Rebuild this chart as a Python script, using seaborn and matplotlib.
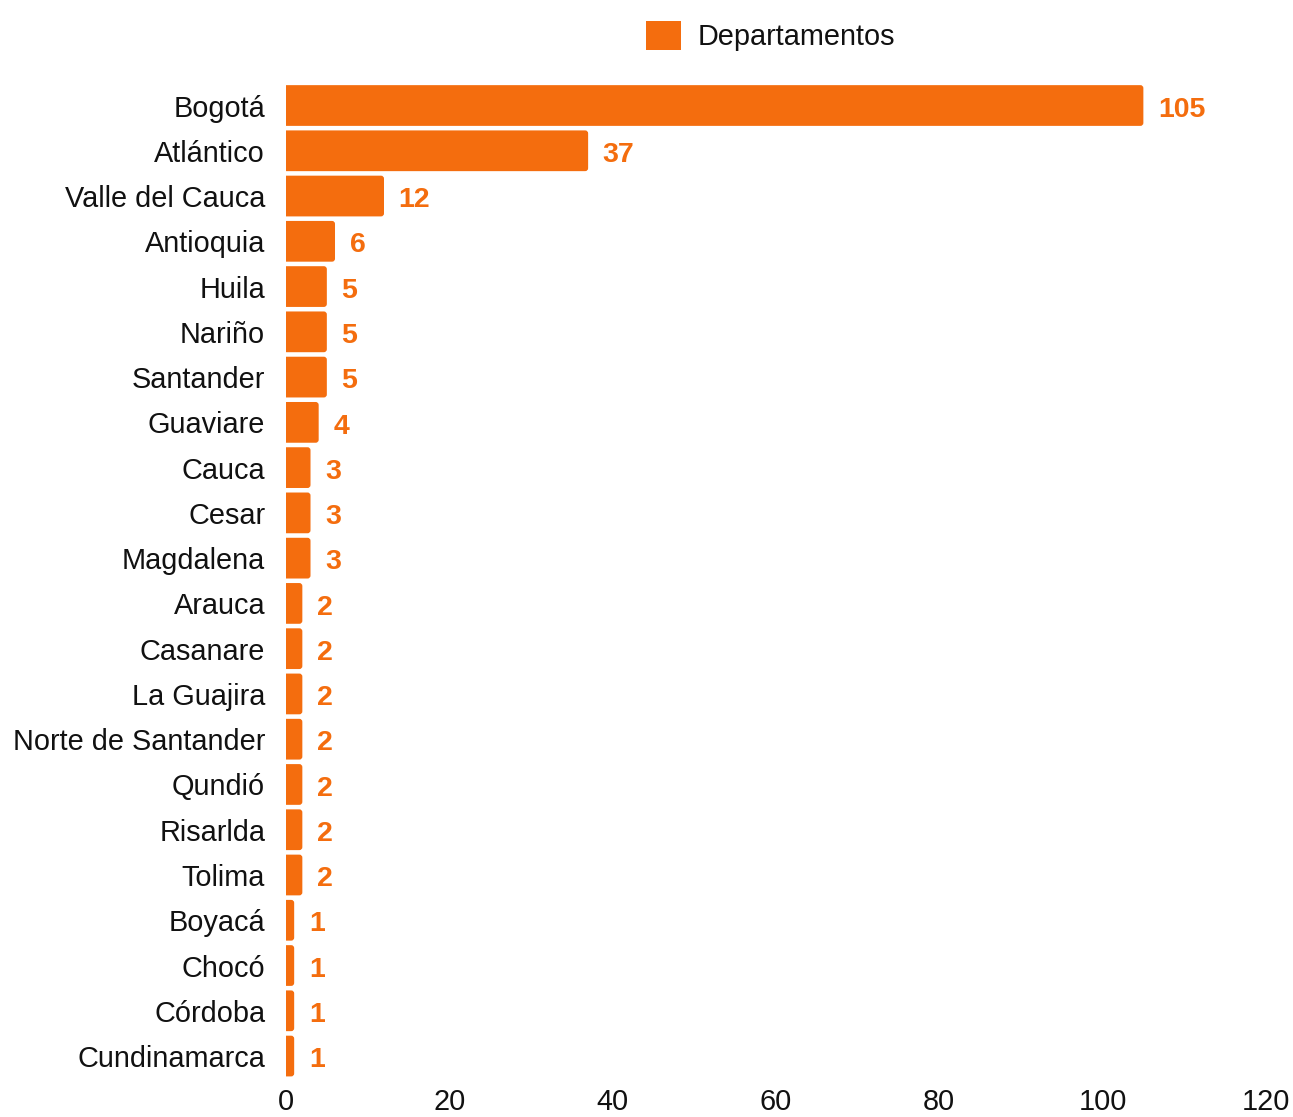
import matplotlib
matplotlib.use("Agg")
import matplotlib.pyplot as plt
import seaborn as sns
import pandas as pd
from matplotlib.patches import Patch, FancyBboxPatch

departamentos = ["Bogotá", "Atlántico", "Valle del Cauca", "Antioquia", "Huila", "Nariño",
                 "Santander", "Guaviare", "Cauca", "Cesar", "Magdalena", "Arauca", "Casanare",
                 "La Guajira", "Norte de Santander", "Qundió", "Risarlda", "Tolima", "Boyacá",
                 "Chocó", "Córdoba", "Cundinamarca"]
valores = [105, 37, 12, 6, 5, 5, 5, 4, 3, 3, 3, 2, 2, 2, 2, 2, 2, 2, 1, 1, 1, 1]
x_ticks = [0, 20, 40, 60, 80, 100, 120]
serie = "Departamentos"

color = "#F46D0E"

sns.set_theme(style="white")
plt.rcParams['font.family'] = ['Liberation Sans', 'DejaVu Sans']

df = pd.DataFrame({"dep": departamentos, "val": valores})

fig = plt.figure(figsize=(12.93, 11.17), dpi=100)
ax = fig.add_axes([0.2212, 0.0343, 0.979 - 0.2212, 0.9258 - 0.0343])

sns.barplot(data=df, x="val", y="dep", orient="h", color=color, width=0.9,
            saturation=1, ax=ax, edgecolor="none")

ax.set_xlim(0, 120)
ax.set_ylim(len(departamentos) - 0.5, -0.5)

# replace bars with slightly rounded versions (right end rounded, left clipped by axes)
xr = 3.0 / 8.17
aspect = (3.0 / 45.26) / xr
for p in list(ax.patches):
    x0, y0 = p.get_x(), p.get_y()
    w, h = p.get_width(), p.get_height()
    fb = FancyBboxPatch((x0 - 1.0, y0), w + 1.0, h,
                        boxstyle=f"round,pad=0,rounding_size={xr}",
                        mutation_aspect=aspect, facecolor=color, edgecolor="none")
    ax.add_patch(fb)
    p.set_visible(False)

ax.set_xticks(x_ticks)
ax.set_xticklabels([str(t) for t in x_ticks])
ax.set_xlabel("")
ax.set_ylabel("")
for s in ax.spines.values():
    s.set_visible(False)
ax.tick_params(axis="y", length=0, pad=15, labelsize=20.8, labelcolor="#111111")
ax.tick_params(axis="x", length=0, pad=7, labelsize=20.8, labelcolor="#111111")
ax.grid(False)

for i, v in enumerate(valores):
    ax.annotate(str(v), xy=(v, i), xytext=(10.5, -3), textcoords="offset points",
                ha="left", va="center", fontsize=20.5, fontweight="bold", color=color)

handle = Patch(facecolor=color, edgecolor="none")
fig.legend([handle], [serie], loc="center", bbox_to_anchor=(0.596, 0.9678),
           frameon=False, fontsize=20.8, handlelength=1.2, handleheight=1.2,
           handletextpad=0.6, labelcolor="#111111")

fig.savefig("out.png", dpi=100, facecolor="white")
